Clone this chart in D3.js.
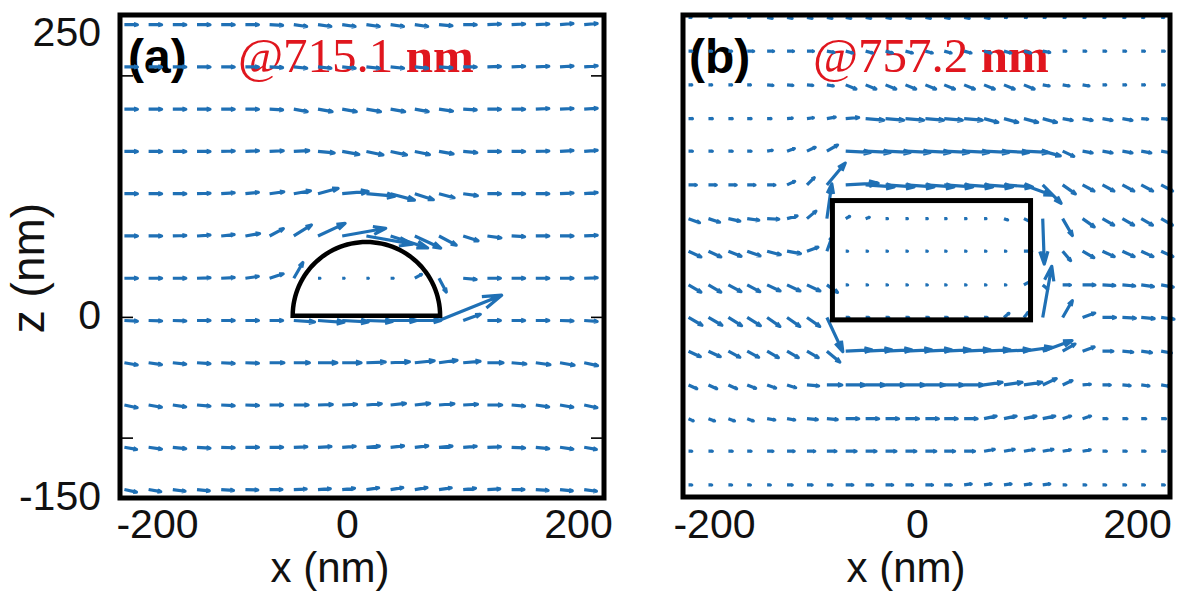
<!DOCTYPE html>
<html>
<head>
<meta charset="utf-8">
<script src="https://cdnjs.cloudflare.com/ajax/libs/d3/7.8.5/d3.min.js"></script>
<style>
body{margin:0;background:#fff}
svg{display:block}
</style>
</head>
<body>
<svg id="chart"></svg>
<script>
// ---- grid coordinates (nm) ----
const xsA = [-206,-184,-162,-140,-118,-96,-74,-52,-30,-8,14,36,58,80,102,124,146,168,190,212];
const zsA = [242,207,172,137,102,67,32,-3,-38,-73,-108,-143];
const xsB = [-205,-187,-169,-152,-134,-116,-98,-80,-63,-45,-27,-9,9,26,44,62,80,98,115,133,151,169,187,204,222];
const zsB = [248,220,192,164,137,109,81,54,26,-1,-29,-57,-85,-112,-140];

// ---- field magnitude (normalised) and direction (deg) ----
const magA = [
 [1,1,1,1,1,1,1,1,1,1,1,1,1,1,1,1,1,1,1,1],
 [1,1,1,1,1,1,1,1,1,1,1,1,1,1,1,1,1,1,1,1],
 [1,1,1,1,1,1,1,1.05,1.1,1.1,1.1,1.1,1.05,1.05,1,1,1,1,1,1],
 [1,1,1,1,1,1,1.05,1.15,1.25,1.3,1.3,1.25,1.15,1.1,1.05,1,1,1,1,1],
 [1,1,1,1,1,1,1.1,1.3,1.6,2,2.2,1.9,1.5,1.2,1.1,1,1,1,1,1],
 [1,1,1,1,1,1.1,1.2,1.6,2.3,3.4,3.6,3,2.2,1.5,1.2,1.05,1,1,1,1],
 [1,1,1,1,1,1,1.1,1.4,.15,.15,.15,.2,.6,1.2,1,1,1,1,1,1],
 [1,1,1,1,1,1,1,1.6,2,2,2,2,2,5.2,1.4,1,1,1,1,1],
 [1,1,1,1,1,1,1.1,1.2,1.45,1.45,1.45,1.45,1.5,1.4,1.3,1.2,1.1,1.1,1.1,1.05],
 [1,1,1,1,1,1,1,1.1,1.1,1.1,1.15,1.15,1.15,1.15,1.1,1.1,1,1,1,1],
 [.95,1,1,1,1,1,1,1,1,1,1,1,1,1,1,1,1,1,1,.95],
 [.95,.95,.95,.95,.95,.95,.95,.95,.95,.95,.95,.95,.95,.95,.95,.95,.95,.95,.95,.95]
];
const angA = [
 [0,0,0,0,0,0,-3,-8,-8,-8,-8,-8,-8,-5,0,3,3,3,5,5],
 [0,0,0,0,0,0,-3,-6,-6,-6,-6,-6,-6,-4,0,2,3,3,4,5],
 [0,0,0,0,0,0,-3,-10,-10,-10,-10,-10,-10,-8,-3,0,0,3,3,4],
 [0,0,0,0,2,3,3,3,-5,-10,-12,-12,-12,-10,-5,0,0,2,4,5],
 [0,0,0,2,4,6,8,10,15,5,-5,-15,-18,-15,-8,0,0,0,3,5],
 [0,0,2,4,6,10,28,32,25,10,-10,-18,-25,-28,-18,-8,-3,0,0,3],
 [0,0,0,2,3,8,18,60,0,0,0,0,30,-62,-5,0,0,0,0,2],
 [-3,-2,-2,0,0,0,0,-4,-4,-3,-2,0,0,22,20,0,0,0,-2,-4],
 [-10,-8,-6,-4,-3,-2,0,0,0,0,2,3,6,8,5,0,-5,-8,-10,-12],
 [-12,-10,-8,-5,-3,-2,0,0,2,3,5,6,6,5,3,0,-5,-8,-10,-12],
 [-10,-8,-6,-4,-2,0,0,2,3,4,5,6,6,5,4,2,-3,-6,-8,-10],
 [-12,-10,-8,-6,-4,-2,0,2,4,6,8,9,9,8,6,3,0,-4,-6,-8]
];
const magB = [
 [.2,.2,.2,.2,.4,.4,.4,.4,.4,.4,.4,.4,.4,.4,.4,.4,.2,.2,.2,.2,.2,.2,.2,.2,.2],
 [.25,.25,.25,.5,.5,.5,.5,.55,.55,.55,.55,.55,.55,.55,.55,.55,.55,.55,.55,.25,.25,.25,.25,.25,.25],
 [.25,.25,.25,.25,.45,.45,.45,.5,.85,.85,.85,.85,.85,.85,.85,.85,.85,.85,.5,.5,.5,.25,.25,.25,.25],
 [.3,.3,.3,.3,.3,.4,.5,.65,1,1.4,1.4,1.4,1.4,1.4,1.4,1.1,1.1,1.1,1.1,.75,.75,.75,.75,.5,.5],
 [.3,.3,.3,.3,.4,.6,.7,.95,1.9,1.9,1.9,1.9,1.9,1.9,1.9,1.9,1.9,1.9,1.4,.95,.75,.75,.75,.75,.7],
 [.6,.6,.6,.6,.6,.65,.8,2.2,2.5,2.2,2.2,2.2,2.2,2.2,2.2,2.2,2.2,2.3,2,1.2,1,1,1,1,1],
 [.9,.9,.9,.9,.9,.8,.9,2.7,.35,.3,.15,.15,.15,.15,.15,.15,.3,.6,3.5,1.5,1.1,1,1,1,1],
 [1.05,1.05,1.05,1.05,1.05,1.05,.9,1.2,.15,.15,.15,.15,.15,.15,.15,.15,.15,.6,.5,.95,1,1,1,1,1],
 [1.1,1.1,1.1,1.1,1.1,1.1,1.1,1,.15,.15,.15,.15,.15,.15,.15,.15,.15,.6,.5,.6,.95,.95,.95,.95,.95],
 [1.2,1.2,1.2,1.2,1.2,1.2,1.2,2.9,.25,.25,.25,.25,.25,.25,.25,.25,.5,.5,4,1.5,1,1,1,1,1],
 [1,1,1,1,1,1,1,1.3,2,2,2,2,2,2,2,2,2,2.2,2.4,1.1,.95,.8,.8,.8,.8],
 [.7,.7,.7,.7,.7,.7,.9,1.15,1.5,1.5,1.5,1.5,1.5,1.5,1.5,1.4,1.4,1.4,1.15,.8,.6,.6,.6,.6,.6],
 [.4,.5,.5,.5,.6,.6,.8,.8,1,1,1,1,1,1,1,.95,.95,.95,.95,.65,.65,.35,.35,.35,.35],
 [.25,.3,.3,.3,.45,.55,.6,.7,.8,.8,.8,.8,.8,.8,.8,.8,.8,.8,.8,.6,.6,.3,.3,.3,.3],
 [.25,.25,.25,.25,.25,.4,.4,.4,.55,.55,.55,.55,.55,.55,.55,.55,.55,.55,.55,.25,.25,.25,.25,.25,.25]
];
const angB = [
 [0,0,0,0,-10,-10,-10,-10,-10,-10,-10,-10,-10,-10,-10,-10,0,0,0,0,0,0,0,0,0],
 [0,0,0,0,0,0,0,-10,-15,-15,-15,-15,-15,-15,-15,-15,-15,-15,-10,0,0,0,0,0,0],
 [0,0,0,0,-5,-5,-5,-10,-22,-22,-22,-22,-22,-22,-22,-22,-22,-22,-10,-10,-10,0,0,0,0],
 [0,0,0,0,0,5,8,10,5,-5,-5,-5,-5,-5,-5,-15,-15,-15,-15,-10,-10,-10,-10,-5,-5],
 [0,0,0,0,10,20,25,30,-3,-3,-3,-3,-3,-3,-3,-3,-3,-3,-15,-25,-10,-10,-10,-10,-10],
 [0,0,0,0,0,25,45,50,3,-4,-4,-4,-4,-4,-4,-4,-4,-20,-45,-35,-28,-28,-28,-28,-28],
 [-20,-18,-12,-8,-3,15,40,82,30,20,0,0,0,0,0,0,-20,-25,-88,-60,-35,-30,-30,-30,-30],
 [-25,-25,-22,-20,-15,-10,20,70,0,0,0,0,0,0,0,0,0,0,-80,-50,-30,-25,-25,-25,-25],
 [-30,-30,-28,-28,-25,-25,-25,-35,0,0,0,0,0,0,0,0,0,30,-40,0,0,-3,-5,-8,-10],
 [-30,-30,-32,-32,-35,-35,-35,-65,0,0,0,0,0,0,0,0,40,50,80,60,20,0,-3,-5,-8],
 [-25,-25,-28,-28,-30,-30,-30,-40,3,3,3,3,3,3,3,3,3,8,20,30,20,0,-5,-8,-10],
 [-25,-25,-25,-22,-20,-18,-5,0,0,0,0,0,0,0,0,8,8,8,25,25,5,0,-5,-8,-10],
 [-25,-20,-20,-20,-10,-10,-5,-5,0,0,0,0,0,0,0,12,12,12,12,18,18,0,0,0,0],
 [0,0,0,0,0,0,0,0,0,0,0,0,0,0,0,10,10,10,10,10,10,0,0,0,0],
 [0,0,0,0,0,0,0,0,0,0,0,0,0,0,8,8,8,8,8,0,0,0,0,0,0]
];

// ---- tick labels ----
const xTickVals = [-200, 0, 200];
const zTickVals = [-150, 0, 250];
const innerTicks = [200, 0, -100];

// ---- particles ----
const halfDisk = {cx: 14, z0: 1, rx: 67, rz: 61};
const block = {x0: -75, x1: 104, z0: -3, z1: 96};

const W = 1180, H = 592;
const sans = "'Liberation Sans', Arial, sans-serif";
const serif = "'Liberation Serif', 'Times New Roman', serif";
const blue = "#1f70b5";

const svg = d3.select("#chart").attr("width", W).attr("height", H);

const lenScale = d3.scaleLinear().domain([0, 1]).range([0, 13]);
const plainNum = d => String(d);

const panels = [
  {id: "a", box: [120, 604, 15, 498], xs: xsA, zs: zsA, mag: magA, ang: angA,
   tag: "(a)", tagX: 128, wl: "@715.1", wlX: 238, xTickPos: [157, 347, 578], labX: 330},
  {id: "b", box: [683, 1170, 15, 497], xs: xsB, zs: zsB, mag: magB, ang: angB,
   tag: "(b)", tagX: 689, wl: "@757.2", wlX: 813, xTickPos: [714, 917, 1137], labX: 906}
];

panels.forEach(p => {
  const [bx0, bx1, by0, by1] = p.box;
  const x = d3.scaleLinear().domain([-210, 230]).range([bx0, bx1]);
  const y = d3.scaleLinear().domain([-150, 250]).range([by1, by0]);
  const g = svg.append("g").attr("class", "panel-" + p.id);

  // panel tag and wavelength (under the arrows)
  g.append("text")
    .attr("x", p.tagX).attr("y", 73)
    .style("font-family", sans).style("font-weight", "bold").style("font-size", "48px")
    .attr("fill", "#000").text(p.tag);
  const wl = g.append("text")
    .attr("x", p.wlX).attr("y", 72)
    .style("font-family", serif).style("font-size", "49px")
    .attr("fill", "#e0161e");
  wl.append("tspan").text(p.wl + " ");
  wl.append("tspan").style("font-weight", "bold").text("nm");

  // quiver arrows
  const arrows = [];
  p.zs.forEach((z, r) => {
    p.xs.forEach((xv, c) => {
      arrows.push({x: xv, z: z, m: p.mag[r][c], a: p.ang[r][c]});
    });
  });
  g.append("g")
    .selectAll("path")
    .data(arrows)
    .join("path")
    .attr("d", d => {
      const x0 = x(d.x), y0 = y(d.z);
      const L = lenScale(d.m);
      const t = d.a * Math.PI / 180;
      const ux = Math.cos(t), uy = -Math.sin(t);
      const tx = x0 + L * ux, ty = y0 + L * uy;
      const hl = 0.28 * L, hw = 0.09 * L;
      const h1x = tx - hl * ux - hw * uy, h1y = ty - hl * uy + hw * ux;
      const h2x = tx - hl * ux + hw * uy, h2y = ty - hl * uy - hw * ux;
      return `M${x0},${y0}L${tx},${ty}M${h1x},${h1y}L${tx},${ty}L${h2x},${h2y}`;
    })
    .attr("fill", "none")
    .attr("stroke", blue)
    .attr("stroke-width", 3.2)
    .attr("stroke-linejoin", "round");

  // particle outline
  if (p.id === "a") {
    const pts = d3.range(0, 181, 3).map(deg => {
      const t = deg * Math.PI / 180;
      return [halfDisk.cx + halfDisk.rx * Math.cos(t), halfDisk.z0 + halfDisk.rz * Math.sin(t)];
    });
    g.append("path")
      .attr("d", d3.line().x(d => x(d[0])).y(d => y(d[1]))(pts) + "Z")
      .attr("fill", "none").attr("stroke", "#000").attr("stroke-width", 4.5);
  } else {
    g.append("rect")
      .attr("x", x(block.x0)).attr("y", y(block.z1))
      .attr("width", x(block.x1) - x(block.x0))
      .attr("height", y(block.z0) - y(block.z1))
      .attr("fill", "none").attr("stroke", "#000").attr("stroke-width", 5);
  }

  // frame
  g.append("rect")
    .attr("x", bx0).attr("y", by0)
    .attr("width", bx1 - bx0).attr("height", by1 - by0)
    .attr("fill", "none").attr("stroke", "#000").attr("stroke-width", 5);

  // inner ticks (panel a only)
  if (p.id === "a") {
    [d3.axisLeft(y), d3.axisRight(y)].forEach((ax, i) => {
      const tg = g.append("g")
        .attr("transform", `translate(${i === 0 ? bx0 : bx1},0)`)
        .call(ax.tickValues(innerTicks).tickSize(-13).tickFormat(""));
      tg.select(".domain").remove();
      tg.selectAll("line").attr("stroke", "#000").attr("stroke-width", 1.6);
    });
  }

  // x tick labels
  const xLab = d3.scaleLinear().domain(xTickVals).range(p.xTickPos);
  const xa = g.append("g")
    .attr("transform", "translate(0,509)")
    .call(d3.axisBottom(xLab).tickValues(xTickVals).tickFormat(plainNum).tickSize(0).tickPadding(0));
  xa.select(".domain").remove();
  xa.selectAll("text")
    .style("font-family", sans).style("font-size", "41px").attr("fill", "#111");

  // x axis title
  g.append("text")
    .attr("x", p.labX).attr("y", 582)
    .attr("text-anchor", "middle")
    .style("font-family", sans).style("font-size", "42px").attr("fill", "#111")
    .text("x (nm)");
});

// z tick labels and title (left panel)
const zLab = d3.scaleLinear().domain(zTickVals).range([496, 315, 32]);
const za = svg.append("g")
  .attr("transform", "translate(101,0)")
  .call(d3.axisLeft(zLab).tickValues(zTickVals).tickFormat(plainNum).tickSize(0).tickPadding(0));
za.select(".domain").remove();
za.selectAll("text")
  .style("font-family", sans).style("font-size", "41px").attr("fill", "#111");

svg.append("text")
  .attr("transform", "translate(44,268) rotate(-90)")
  .attr("text-anchor", "middle")
  .style("font-family", sans).style("font-size", "46px").attr("fill", "#111")
  .text("z (nm)");
</script>
</body>
</html>
